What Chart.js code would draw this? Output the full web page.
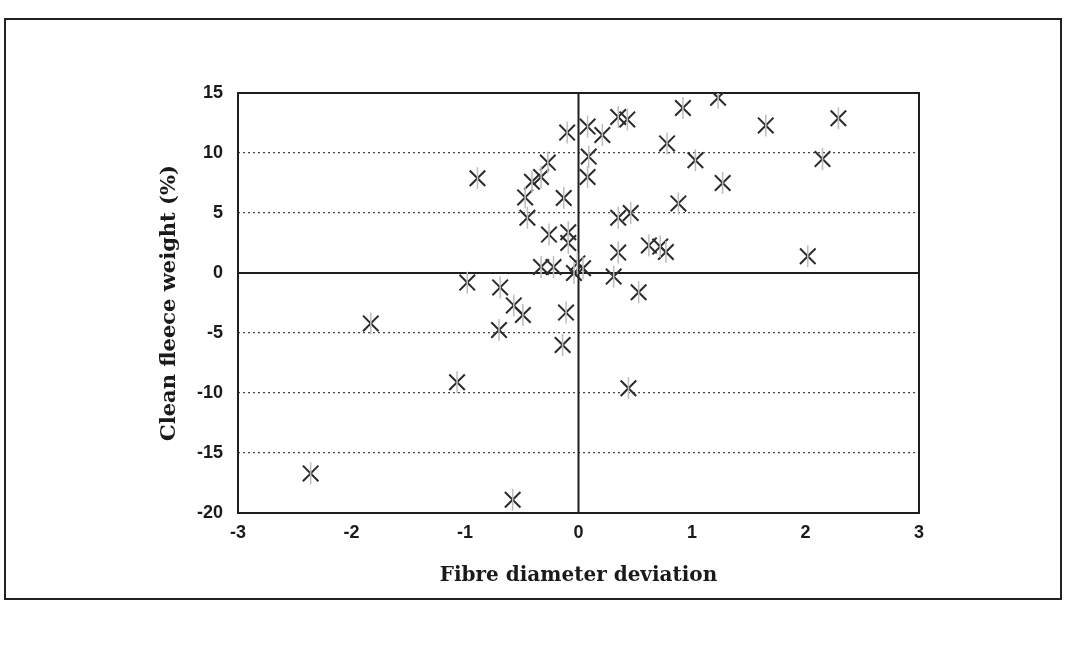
<!DOCTYPE html>
<html>
<head>
<meta charset="utf-8">
<script src="https://cdn.jsdelivr.net/npm/chart.js@4/dist/chart.umd.min.js"></script>
<style>
  html, body { margin: 0; padding: 0; background: #fff; }
  #wrap { position: relative; width: 1067px; height: 649px; }
  #frame { position: absolute; left: 4px; top: 18px; width: 1054px; height: 578px; border: 2px solid #222; }
  #c { position: absolute; left: 0; top: 0; }
</style>
</head>
<body>
<div id="wrap">
  <div id="frame"></div>
  <canvas id="c" width="1067" height="649"></canvas>
</div>
<script>
// fibre diameter deviation (x) vs clean fleece weight % (y)
var fibreDev = [-0.10, 0.08, 0.21, 0.35, 0.43, 0.92, 1.23, 1.65, 2.29, 0.09,
                0.78, 1.03, 2.15, 0.08, 1.27, 0.88, 0.35, 0.46, -0.09, -0.09,
                0.35, 0.62, 0.72, 0.77, 2.02, 0.31, 0.53, -0.89, -0.27, -0.33,
                -0.41, -0.47, -0.13, -0.45, -0.26, -0.33, -0.22, -0.01, -0.04, 0.04,
                -0.98, -0.69, -0.57, -0.49, -0.11, -0.70, -0.14, -1.83, -1.07, -2.36,
                -0.58, 0.44];
var fleeceWt = [11.7, 12.2, 11.5, 13.0, 12.8, 13.75, 14.6, 12.3, 12.9, 9.7,
                10.8, 9.4, 9.5, 8.0, 7.5, 5.8, 4.6, 5.0, 3.4, 2.5,
                1.7, 2.3, 2.2, 1.75, 1.4, -0.3, -1.6, 7.9, 9.2, 8.0,
                7.6, 6.3, 6.25, 4.6, 3.2, 0.5, 0.5, 0.8, 0.0, 0.4,
                -0.8, -1.2, -2.7, -3.5, -3.3, -4.75, -6.0, -4.2, -9.1, -16.7,
                -18.9, -9.6];
var xTicks = [-3, -2, -1, 0, 1, 2, 3];
var yTicks = [-20, -15, -10, -5, 0, 5, 10, 15];

var pts = fibreDev.map(function (v, i) { return { x: v, y: fleeceWt[i] }; });

// solid zero lines + box round the plot
var axesBox = {
  id: 'axesBox',
  beforeDatasetsDraw: function (chart) {
    var a = chart.chartArea, c = chart.ctx;
    var x0 = chart.scales.x.getPixelForValue(0);
    var y0 = chart.scales.y.getPixelForValue(0);
    c.save();
    c.strokeStyle = '#1e1e1e';
    c.lineWidth = 2;
    c.beginPath();
    c.moveTo(a.left, y0); c.lineTo(a.right, y0);
    c.moveTo(x0, a.top); c.lineTo(x0, a.bottom);
    c.stroke();
    c.strokeRect(a.left, a.top, a.right - a.left, a.bottom - a.top);
    c.restore();
  }
};

new Chart(document.getElementById('c'), {
  type: 'scatter',
  data: {
    datasets: [{
      label: 'stroke',
      data: pts,
      pointStyle: 'line',
      rotation: 90,
      pointRadius: 11,
      borderColor: '#bdbdbd',
      borderWidth: 1.5
    }, {
      label: 'Clean fleece weight',
      data: pts,
      pointStyle: 'crossRot',
      pointRadius: 11,
      borderColor: '#2b2b2b',
      borderWidth: 2
    }]
  },
  options: {
    responsive: false,
    animation: false,
    layout: { padding: { left: 150, right: 148, top: 93, bottom: 46 } },
    plugins: { legend: { display: false }, tooltip: { enabled: false } },
    scales: {
      x: {
        min: -3, max: 3,
        afterFit: function (s) { s.height = 90; },
        afterBuildTicks: function (s) { s.ticks = xTicks.map(function (v) { return { value: v }; }); },
        grid: { display: false, drawTicks: false },
        border: { display: false },
        ticks: { padding: 9, color: '#1a1a1a', font: { family: 'Liberation Sans', size: 18, weight: 'bold' } },
        title: { display: true, text: 'Fibre diameter deviation', color: '#1a1a1a', padding: 15,
                 font: { family: 'DejaVu Serif', size: 20, weight: 'bold' } }
      },
      y: {
        min: -20, max: 15,
        afterFit: function (s) { s.width = 88; },
        afterBuildTicks: function (s) { s.ticks = yTicks.map(function (v) { return { value: v }; }); },
        grid: { color: '#444', lineWidth: 1.3, drawTicks: false },
        border: { display: false, dash: [2, 3] },
        ticks: { padding: 15, color: '#1a1a1a', font: { family: 'Liberation Sans', size: 18, weight: 'bold' } },
        title: { display: true, text: 'Clean fleece weight (%)', color: '#1a1a1a', padding: 7,
                 font: { family: 'DejaVu Serif', size: 21, weight: 'bold' } }
      }
    }
  },
  plugins: [axesBox]
});
</script>
</body>
</html>
